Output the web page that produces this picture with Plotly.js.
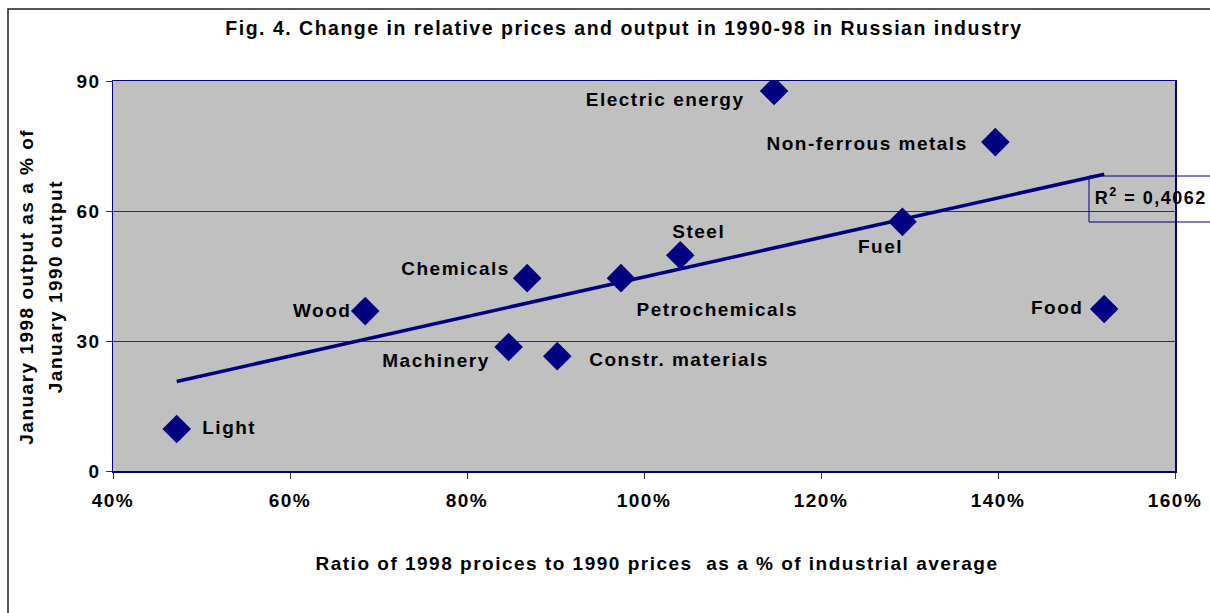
<!DOCTYPE html>
<html>
<head>
<meta charset="utf-8">
<script src="https://cdn.plot.ly/plotly-3.0.1.min.js"></script>
<style>
  html, body { margin: 0; padding: 0; background: #fff; }
  #chart { width: 1210px; height: 613px; }
  #chart .main-svg text { letter-spacing: 1.5px; }
</style>
</head>
<body>
<div id="chart"></div>
<script>
// ---- data ----
const industries = ["Light", "Wood", "Machinery", "Chemicals", "Constr. materials",
  "Petrochemicals", "Steel", "Electric energy", "Fuel", "Non-ferrous metals", "Food"];
const priceRatio = [0.472, 0.685, 0.847, 0.868, 0.902, 0.974, 1.041, 1.147, 1.292, 1.397, 1.520];
const outputPct  = [9.7, 36.9, 28.6, 44.5, 26.5, 44.5, 49.8, 87.7, 57.5, 75.9, 37.4];
const r2Label = "R<sup>2</sup> = 0,4062";
const titleText = "Fig. 4. Change in relative prices and output in 1990-98 in Russian industry";
const xTitle = "Ratio of 1998 proices to 1990 prices  as a % of industrial average";
const yTitle1 = "January 1998 output as a % of";
const yTitle2 = "January 1990 output";
const xTicks = [0.4, 0.6, 0.8, 1.0, 1.2, 1.4, 1.6];
const yTicks = [0, 30, 60, 90];

// label placement (style only): [xanchor, xshift, yshift]
const labelPos = [
  ["left", 24, 1], ["right", -12, 1], ["right", -17, -13], ["right", -15, 10],
  ["left", 30, -3], ["left", 14, -31], ["center", 18, 24], ["right", -27, -9],
  ["center", -22, -25], ["right", -26, -1], ["right", -19, 1]
];
const LS = 1.5; // css letter spacing, px (not included in plotly's text measuring)

// linear trend from the data
const n = priceRatio.length;
const mx = priceRatio.reduce((a, b) => a + b, 0) / n;
const my = outputPct.reduce((a, b) => a + b, 0) / n;
let sxy = 0, sxx = 0;
for (let i = 0; i < n; i++) { sxy += (priceRatio[i] - mx) * (outputPct[i] - my); sxx += (priceRatio[i] - mx) ** 2; }
const slope = sxy / sxx, icpt = my - slope * mx;
const xMin = Math.min(...priceRatio), xMax = Math.max(...priceRatio);
const trendX = [xMin, xMax];
const trendY = trendX.map(v => icpt + slope * v);

const NAVY = "#000080";
const FONT = "Liberation Sans, Arial, sans-serif";
const f = (size) => ({ family: FONT, size: size, color: "#000", weight: "bold" });

// plot-area geometry helpers (pixel -> paper)
const L = 113, T = 81, W = 1062, H = 390;
const px = (p) => (p - L) / W;
const py = (p) => (T + H - p) / H;

const traces = [
  { x: trendX, y: trendY, type: "scatter", mode: "lines",
    line: { color: NAVY, width: 3.5 }, hoverinfo: "skip", showlegend: false },
  { x: priceRatio, y: outputPct, type: "scatter", mode: "markers", text: industries,
    marker: { symbol: "diamond", size: 22, color: NAVY, line: { width: 0 } }, showlegend: false }
];

const comp = (anchor, len) => anchor === "left" ? len * LS / 2 : anchor === "right" ? -len * LS / 2 : 0;

const annotations = industries.map((name, i) => ({
  x: priceRatio[i], y: outputPct[i], xref: "x", yref: "y", text: name, showarrow: false,
  xanchor: labelPos[i][0], yanchor: "middle",
  xshift: labelPos[i][1] + comp(labelPos[i][0], name.length), yshift: labelPos[i][2],
  font: f(19)
}));
annotations.push(
  { x: px(1093), y: py(196), xref: "paper", yref: "paper", text: r2Label, showarrow: false,
    xanchor: "left", yanchor: "middle", xshift: comp("left", 11), font: f(18) },
  { x: px(26), y: py(287), xref: "paper", yref: "paper", text: yTitle1, showarrow: false,
    textangle: -90, xanchor: "center", yanchor: "middle", font: f(19) },
  { x: px(55), y: py(287), xref: "paper", yref: "paper", text: yTitle2, showarrow: false,
    textangle: -90, xanchor: "center", yanchor: "middle", font: f(19) },
  { x: px(657), y: py(563), xref: "paper", yref: "paper", text: xTitle, showarrow: false,
    xanchor: "center", yanchor: "middle", font: f(19) }
);

const layout = {
  width: 1210, height: 613,
  margin: { l: L, r: 1210 - L - W, t: T, b: 613 - T - H },
  paper_bgcolor: "#ffffff", plot_bgcolor: "#c0c0c0",
  font: f(19),
  title: { text: titleText, font: f(19.5), x: 624 / 1210, xref: "container", xanchor: "center",
           y: 1 - 28 / 613, yref: "container", yanchor: "middle" },
  xaxis: {
    range: [0.4, 1.6], tickvals: xTicks, tickformat: ".0%", showgrid: false, zeroline: false,
    showline: true, linecolor: NAVY, linewidth: 1.5, mirror: true,
    ticks: "outside", ticklen: 6, tickcolor: "#333", tickwidth: 1,
    ticklabelstandoff: 6, tickfont: f(19), automargin: false, fixedrange: true
  },
  yaxis: {
    range: [0, 90], tickvals: yTicks, showgrid: true, gridcolor: "#333", gridwidth: 1, zeroline: false,
    showline: true, linecolor: NAVY, linewidth: 1.5, mirror: true,
    ticks: "outside", ticklen: 6, tickcolor: "#333", tickwidth: 1,
    ticklabelstandoff: 1, tickfont: f(19), automargin: false, fixedrange: true
  },
  shapes: [
    { type: "rect", xref: "paper", yref: "paper", x0: px(8), x1: px(1240), y0: py(650), y1: py(9),
      line: { color: "#222", width: 1.5 }, fillcolor: "rgba(0,0,0,0)", layer: "above" },
    { type: "rect", xref: "paper", yref: "paper", x0: px(1089), x1: px(1240), y0: py(222), y1: py(176),
      line: { color: NAVY, width: 1 }, fillcolor: "rgba(0,0,0,0)", layer: "above" }
  ],
  annotations: annotations,
  hovermode: false
};

Plotly.newPlot("chart", traces, layout, { displayModeBar: false, staticPlot: true });
</script>
</body>
</html>
